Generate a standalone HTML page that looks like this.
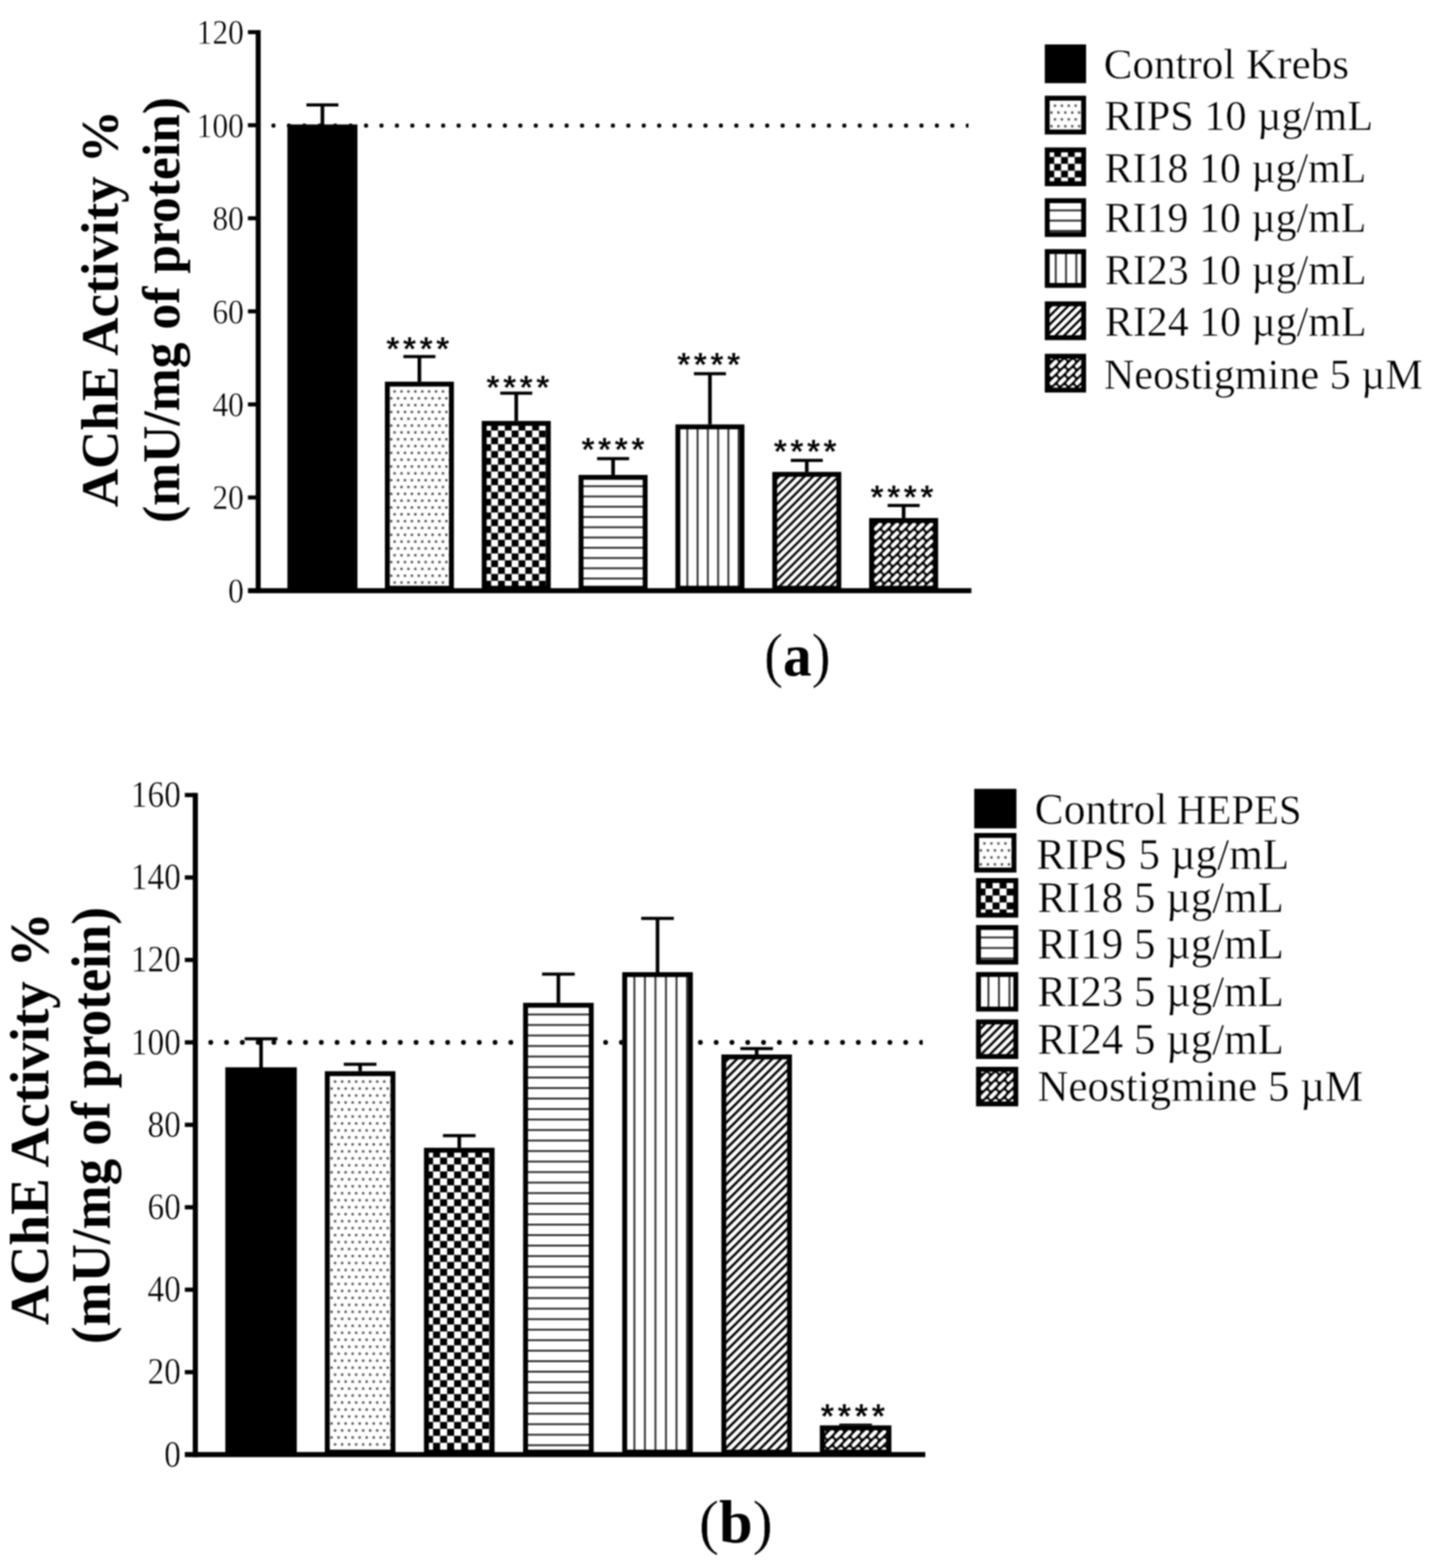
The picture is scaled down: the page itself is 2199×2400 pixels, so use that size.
<!DOCTYPE html>
<html lang="en"><head><meta charset="utf-8"><title>AChE Activity</title>
<style>
html,body{margin:0;padding:0;background:#fff;}
body{width:2199px;height:2400px;overflow:hidden;}
svg{display:block;font-family:'Liberation Serif', 'DejaVu Serif', serif;fill:#000;}
.thin{stroke:#fff;stroke-width:0.6px;}
</style></head>
<body>
<svg xmlns="http://www.w3.org/2000/svg" width="2199" height="2400" viewBox="0 0 2199 2400">
<defs><filter id="soft" x="0" y="0" width="2199" height="2400" filterUnits="userSpaceOnUse" color-interpolation-filters="sRGB"><feGaussianBlur stdDeviation="0.9"/></filter></defs>
<rect width="2199" height="2400" fill="#fff"/>
<g filter="url(#soft)">
<g id="chart-a"><defs><pattern id="dotsa" patternUnits="userSpaceOnUse" x="-5.28" y="-5.22" width="10.56" height="20.89"><rect x="3.53" y="3.47" width="3.5" height="3.5" fill="#484848"/><rect x="-1.75" y="13.92" width="3.5" height="3.5" fill="#484848"/><rect x="8.81" y="13.92" width="3.5" height="3.5" fill="#484848"/></pattern><pattern id="chka" patternUnits="userSpaceOnUse" x="0" y="0" width="20.9" height="20.9"><rect x="0" y="0" width="10.45" height="10.45" fill="#000"/><rect x="10.45" y="10.45" width="10.45" height="10.45" fill="#000"/></pattern><pattern id="hla" patternUnits="userSpaceOnUse" x="0" y="-1.4" width="40" height="15.7"><rect x="0" y="0" width="40" height="2.8" fill="#2a2a2a"/></pattern><pattern id="vla" patternUnits="userSpaceOnUse" x="-1.4" y="0" width="15.7" height="40"><rect x="0" y="0" width="2.8" height="40" fill="#2a2a2a"/></pattern><pattern id="dga" patternUnits="userSpaceOnUse" x="0" y="0" width="13" height="13"><path d="M-13,13 L13,-13 M-13,26 L26,-13 M0,26 L26,0" stroke="#000" stroke-width="3.5" fill="none"/></pattern><pattern id="dba" patternUnits="userSpaceOnUse" x="-6.5" y="-6.5" width="13" height="13"><rect width="13" height="13" fill="#000"/><path d="M3.1,9.9 L9.9,3.1" stroke="#fff" stroke-width="6" stroke-linecap="round" fill="none"/></pattern><clipPath id="clipa"><rect x="0" y="182.2" width="1482" height="20"/></clipPath></defs><line clip-path="url(#clipa)" x1="418.5" y1="192.2" x2="1502" y2="192.2" stroke="#000" stroke-width="6.4" stroke-linecap="round" stroke-dasharray="0 23.61" fill="none"/><rect x="490.6" y="160.6" width="5.6" height="31.9"/><rect x="468.9" y="158.2" width="49" height="4.8"/><rect x="439.8" y="190.5" width="107.2" height="713.6"/><rect x="639" y="545.8" width="5.6" height="40.4"/><rect x="617.3" y="543.4" width="49" height="4.8"/><g transform="translate(603.9,599.2)"><rect x="-14.9" y="-15" width="105.6" height="319.9" fill="#fff"/><rect x="-11.15" y="-11.25" width="98.1" height="312.4" fill="url(#dotsa)" stroke="#000" stroke-width="7.5"/></g><rect x="787.2" y="601.8" width="5.6" height="44.5"/><rect x="765.5" y="599.4" width="49" height="4.8"/><g transform="translate(741.2,659)"><rect x="-4" y="-14.7" width="105.6" height="259.8" fill="#fff"/><rect x="-0.25" y="-10.95" width="98.1" height="252.3" fill="url(#chka)" stroke="#000" stroke-width="7.5"/></g><rect x="935.4" y="702" width="5.6" height="26.9"/><rect x="913.7" y="699.6" width="49" height="4.8"/><g transform="translate(0,744.2)"><rect x="885.4" y="-17.3" width="105.6" height="177.2" fill="#fff"/><rect x="889.15" y="-13.55" width="98.1" height="169.7" fill="url(#hla)" stroke="#000" stroke-width="7.5"/></g><rect x="1083.6" y="572" width="5.6" height="79.6"/><rect x="1061.9" y="569.6" width="49" height="4.8"/><g transform="translate(1051.8,0)"><rect x="-18.2" y="649.6" width="105.6" height="254.5" fill="#fff"/><rect x="-14.45" y="653.35" width="98.1" height="247" fill="url(#vla)" stroke="#000" stroke-width="7.5"/></g><rect x="1231.8" y="704.7" width="5.6" height="19.6"/><rect x="1210.1" y="702.3" width="49" height="4.8"/><g transform="translate(1187.6,746.8)"><rect x="-5.8" y="-24.5" width="105.6" height="181.8" fill="#fff"/><rect x="-2.05" y="-20.75" width="98.1" height="174.3" fill="url(#dga)" stroke="#000" stroke-width="7.5"/></g><rect x="1380" y="773.7" width="5.6" height="21.2"/><rect x="1358.3" y="771.3" width="49" height="4.8"/><g transform="translate(1343.6,806)"><rect x="-13.6" y="-13.1" width="105.6" height="111.2" fill="#fff"/><rect x="-9.85" y="-9.35" width="98.1" height="103.7" fill="url(#dba)" stroke="#000" stroke-width="7.5"/></g><rect x="391.3" y="46.1" width="7.6" height="861.85"/><rect x="379.4" y="900.25" width="1107.1" height="7.7"/><rect x="379.4" y="46.1" width="15.7" height="6.2"/><text transform="translate(373.2,67.2) scale(0.92,1)" text-anchor="end" class="thin" font-size="52.5">120</text><rect x="379.4" y="188.55" width="15.7" height="6.2"/><text transform="translate(373.2,209.65) scale(0.92,1)" text-anchor="end" class="thin" font-size="52.5">100</text><rect x="379.4" y="331" width="15.7" height="6.2"/><text transform="translate(373.2,352.1) scale(0.92,1)" text-anchor="end" class="thin" font-size="52.5">80</text><rect x="379.4" y="473.45" width="15.7" height="6.2"/><text transform="translate(373.2,494.55) scale(0.92,1)" text-anchor="end" class="thin" font-size="52.5">60</text><rect x="379.4" y="615.9" width="15.7" height="6.2"/><text transform="translate(373.2,637) scale(0.92,1)" text-anchor="end" class="thin" font-size="52.5">40</text><rect x="379.4" y="758.35" width="15.7" height="6.2"/><text transform="translate(373.2,779.45) scale(0.92,1)" text-anchor="end" class="thin" font-size="52.5">20</text><text transform="translate(373.2,921.9) scale(0.92,1)" text-anchor="end" class="thin" font-size="52.5">0</text><text x="591.08" y="552.1" font-family="'Liberation Sans', 'DejaVu Sans', sans-serif" font-weight="bold" class="thin" letter-spacing="5.17" font-size="52">****</text><text x="744.28" y="610.8" font-family="'Liberation Sans', 'DejaVu Sans', sans-serif" font-weight="bold" class="thin" letter-spacing="5.17" font-size="52">****</text><text x="889.68" y="706.2" font-family="'Liberation Sans', 'DejaVu Sans', sans-serif" font-weight="bold" class="thin" letter-spacing="5.17" font-size="52">****</text><text x="1036.18" y="576" font-family="'Liberation Sans', 'DejaVu Sans', sans-serif" font-weight="bold" class="thin" letter-spacing="5.17" font-size="52">****</text><text x="1183.88" y="709" font-family="'Liberation Sans', 'DejaVu Sans', sans-serif" font-weight="bold" class="thin" letter-spacing="5.17" font-size="52">****</text><text x="1331.98" y="778.5" font-family="'Liberation Sans', 'DejaVu Sans', sans-serif" font-weight="bold" class="thin" letter-spacing="5.17" font-size="52">****</text><text transform="translate(180.2,472.5) rotate(-90) scale(1,1)" text-anchor="middle" font-weight="bold" font-size="81">AChE Activity %</text><text transform="translate(274.4,474.5) rotate(-90) scale(0.975,1)" text-anchor="middle" font-weight="bold" font-size="81">(mU/mg of protein)</text><rect x="1598.8" y="68" width="63.2" height="59.3"/><text transform="translate(1688.96,119.9) scale(0.9989,1)" class="thin" font-size="66">Control Krebs</text><g transform="translate(1614.4,161.8)"><rect x="-15.6" y="-15.3" width="63.2" height="59.3" fill="#fff"/><rect x="-11.85" y="-11.55" width="55.7" height="51.8" fill="url(#dotsa)" stroke="#000" stroke-width="7.5"/></g><text transform="translate(1689.96,198.7) scale(0.9806,1)" class="thin" font-size="66">RIPS 10 µg/mL</text><g transform="translate(1613.3,250.7)"><rect x="-14.5" y="-25" width="63.2" height="59.3" fill="#fff"/><rect x="-10.75" y="-21.25" width="55.7" height="51.8" fill="url(#chka)" stroke="#000" stroke-width="7.5"/></g><text transform="translate(1690.37,278.7) scale(0.9724,1)" class="thin" font-size="66">RI18 10 µg/mL</text><g transform="translate(0,322)"><rect x="1598.8" y="-18.6" width="63.2" height="59.3" fill="#fff"/><rect x="1602.55" y="-14.85" width="55.7" height="51.8" fill="url(#hla)" stroke="#000" stroke-width="7.5"/></g><text transform="translate(1690.37,355) scale(0.9724,1)" class="thin" font-size="66">RI19 10 µg/mL</text><g transform="translate(1615.6,0)"><rect x="-16.8" y="381.3" width="63.2" height="59.3" fill="#fff"/><rect x="-13.05" y="385.05" width="55.7" height="51.8" fill="url(#vla)" stroke="#000" stroke-width="7.5"/></g><text transform="translate(1690.67,434.7) scale(0.9724,1)" class="thin" font-size="66">RI23 10 µg/mL</text><g transform="translate(1610,480)"><rect x="-11.2" y="-18.7" width="63.2" height="59.3" fill="#fff"/><rect x="-7.45" y="-14.95" width="55.7" height="51.8" fill="url(#dga)" stroke="#000" stroke-width="7.5"/></g><text transform="translate(1690.67,514.2) scale(0.9724,1)" class="thin" font-size="66">RI24 10 µg/mL</text><g transform="translate(1612.5,557.2)"><rect x="-13.7" y="-15.7" width="63.2" height="59.3" fill="#fff"/><rect x="-9.95" y="-11.95" width="55.7" height="51.8" fill="url(#dba)" stroke="#000" stroke-width="7.5"/></g><text transform="translate(1689.27,595) scale(0.9764,1)" class="thin" font-size="66">Neostigmine 5 µM</text><text transform="translate(1220.2,1034.2) scale(0.93,1)" text-anchor="middle" class="thin" font-size="94">(<tspan font-weight="bold" stroke="none">a</tspan>)</text></g>
<g id="chart-b"><defs><pattern id="dotsb" patternUnits="userSpaceOnUse" x="-5.37" y="-5.34" width="10.74" height="21.36"><rect x="3.62" y="3.59" width="3.5" height="3.5" fill="#484848"/><rect x="-1.75" y="14.27" width="3.5" height="3.5" fill="#484848"/><rect x="8.99" y="14.27" width="3.5" height="3.5" fill="#484848"/></pattern><pattern id="chkb" patternUnits="userSpaceOnUse" x="0" y="0" width="21.48" height="21.3"><rect x="0" y="0" width="10.74" height="10.65" fill="#000"/><rect x="10.74" y="10.65" width="10.74" height="10.65" fill="#000"/></pattern><pattern id="hlb" patternUnits="userSpaceOnUse" x="0" y="-1.4" width="40" height="16.08"><rect x="0" y="0" width="40" height="2.8" fill="#2a2a2a"/></pattern><pattern id="vlb" patternUnits="userSpaceOnUse" x="-1.4" y="0" width="16.1" height="40"><rect x="0" y="0" width="2.8" height="40" fill="#2a2a2a"/></pattern><pattern id="dgb" patternUnits="userSpaceOnUse" x="0" y="0" width="13.45" height="13.45"><path d="M-13.45,13.45 L13.45,-13.45 M-13.45,26.9 L26.9,-13.45 M0,26.9 L26.9,0" stroke="#000" stroke-width="3.6" fill="none"/></pattern><pattern id="dbb" patternUnits="userSpaceOnUse" x="-6.65" y="-6.65" width="13.3" height="13.3"><rect width="13.3" height="13.3" fill="#000"/><path d="M3.15,10.15 L10.15,3.15" stroke="#fff" stroke-width="6.1" stroke-linecap="round" fill="none"/></pattern><clipPath id="clipb"><rect x="0" y="1585.5" width="1412" height="20"/></clipPath></defs><line clip-path="url(#clipb)" x1="322.5" y1="1595.5" x2="1432" y2="1595.5" stroke="#000" stroke-width="7.4" stroke-linecap="round" stroke-dasharray="0 24.17" fill="none"/><rect x="396.75" y="1590" width="5.5" height="45.6"/><rect x="374.5" y="1587.6" width="50" height="4.8"/><rect x="344.8" y="1633.6" width="109.4" height="592.8"/><rect x="548.35" y="1629" width="5.5" height="12.6"/><rect x="526.1" y="1626.6" width="50" height="4.8"/><g transform="translate(512.8,1655.5)"><rect x="-15.7" y="-15.9" width="108" height="586.8" fill="#fff"/><rect x="-11.95" y="-12.15" width="100.5" height="579.3" fill="url(#dotsb)" stroke="#000" stroke-width="7.5"/></g><rect x="700.05" y="1738.2" width="5.5" height="20.6"/><rect x="677.8" y="1735.8" width="50" height="4.8"/><g transform="translate(652,1771.7)"><rect x="-3.2" y="-14.9" width="108" height="469.6" fill="#fff"/><rect x="0.55" y="-11.15" width="100.5" height="462.1" fill="url(#chkb)" stroke="#000" stroke-width="7.5"/></g><rect x="851.75" y="1491" width="5.5" height="45.9"/><rect x="829.5" y="1488.6" width="50" height="4.8"/><g transform="translate(0,1552.8)"><rect x="800.5" y="-17.9" width="108" height="691.5" fill="#fff"/><rect x="804.25" y="-14.15" width="100.5" height="684" fill="url(#hlb)" stroke="#000" stroke-width="7.5"/></g><rect x="1003.45" y="1405.7" width="5.5" height="84.3"/><rect x="981.2" y="1403.3" width="50" height="4.8"/><g transform="translate(970.8,0)"><rect x="-18.6" y="1488" width="108" height="738.4" fill="#fff"/><rect x="-14.85" y="1491.75" width="100.5" height="730.9" fill="url(#vlb)" stroke="#000" stroke-width="7.5"/></g><rect x="1155.15" y="1605" width="5.5" height="11"/><rect x="1132.9" y="1602.6" width="50" height="4.8"/><g transform="translate(1115.3,1620)"><rect x="-11.4" y="-6" width="108" height="612.4" fill="#fff"/><rect x="-7.65" y="-2.25" width="100.5" height="604.9" fill="url(#dgb)" stroke="#000" stroke-width="7.5"/></g><rect x="1306.6" y="2181.4" width="5.5" height="2.3"/><rect x="1284.35" y="2179" width="50" height="4.8"/><g transform="translate(1270,2195)"><rect x="-15.4" y="-13.3" width="109.5" height="44.7" fill="#fff"/><rect x="-11.65" y="-9.55" width="102" height="37.2" fill="url(#dbb)" stroke="#000" stroke-width="7.5"/></g><rect x="294.95" y="1213.65" width="7.9" height="1016.65"/><rect x="282.8" y="2222.5" width="1133.2" height="7.8"/><rect x="282.8" y="1213.65" width="16.1" height="6.5"/><text transform="translate(276.7,1235) scale(0.91,1)" text-anchor="end" class="thin" font-size="56">160</text><rect x="282.8" y="1339.84" width="16.1" height="6.5"/><text transform="translate(276.7,1361.19) scale(0.91,1)" text-anchor="end" class="thin" font-size="56">140</text><rect x="282.8" y="1466.03" width="16.1" height="6.5"/><text transform="translate(276.7,1487.38) scale(0.91,1)" text-anchor="end" class="thin" font-size="56">120</text><rect x="282.8" y="1592.22" width="16.1" height="6.5"/><text transform="translate(276.7,1613.57) scale(0.91,1)" text-anchor="end" class="thin" font-size="56">100</text><rect x="282.8" y="1718.41" width="16.1" height="6.5"/><text transform="translate(276.7,1739.76) scale(0.91,1)" text-anchor="end" class="thin" font-size="56">80</text><rect x="282.8" y="1844.6" width="16.1" height="6.5"/><text transform="translate(276.7,1865.95) scale(0.91,1)" text-anchor="end" class="thin" font-size="56">60</text><rect x="282.8" y="1970.79" width="16.1" height="6.5"/><text transform="translate(276.7,1992.14) scale(0.91,1)" text-anchor="end" class="thin" font-size="56">40</text><rect x="282.8" y="2096.98" width="16.1" height="6.5"/><text transform="translate(276.7,2118.33) scale(0.91,1)" text-anchor="end" class="thin" font-size="56">20</text><text transform="translate(276.7,2244.52) scale(0.91,1)" text-anchor="end" class="thin" font-size="56">0</text><text x="1255.79" y="2186" font-family="'Liberation Sans', 'DejaVu Sans', sans-serif" font-weight="bold" class="thin" letter-spacing="5.38" font-size="53">****</text><text transform="translate(74.4,1712.3) rotate(-90) scale(1,1)" text-anchor="middle" font-weight="bold" font-size="84.2">AChE Activity %</text><text transform="translate(167.6,1722.8) rotate(-90) scale(0.962,1)" text-anchor="middle" font-weight="bold" font-size="84.2">(mU/mg of protein)</text><rect x="1490.8" y="1207.4" width="64.6" height="60.5"/><text transform="translate(1583.34,1261) scale(0.9821,1)" class="thin" font-size="67.7">Control <tspan font-size="63.5" dx="-2">HEPES</tspan></text><g transform="translate(1506.4,1291)"><rect x="-15.6" y="-16" width="64.6" height="60.5" fill="#fff"/><rect x="-11.85" y="-12.25" width="57.1" height="53" fill="url(#dotsb)" stroke="#000" stroke-width="7.5"/></g><text transform="translate(1585.82,1330.3) scale(0.9764,1)" class="thin" font-size="67.7">RIPS 5 µg/mL</text><g transform="translate(1497.4,1360)"><rect x="-3.8" y="-16" width="64.6" height="60.5" fill="#fff"/><rect x="-0.05" y="-12.25" width="57.1" height="53" fill="url(#chkb)" stroke="#000" stroke-width="7.5"/></g><text transform="translate(1587.53,1396.2) scale(0.9699,1)" class="thin" font-size="67.7">RI18 5 µg/mL</text><g transform="translate(0,1434.9)"><rect x="1493.6" y="-19" width="64.6" height="60.5" fill="#fff"/><rect x="1497.35" y="-15.25" width="57.1" height="53" fill="url(#hlb)" stroke="#000" stroke-width="7.5"/></g><text transform="translate(1587.53,1467) scale(0.9699,1)" class="thin" font-size="67.7">RI19 5 µg/mL</text><g transform="translate(1512.6,0)"><rect x="-19" y="1487.8" width="64.6" height="60.5" fill="#fff"/><rect x="-15.25" y="1491.55" width="57.1" height="53" fill="url(#vlb)" stroke="#000" stroke-width="7.5"/></g><text transform="translate(1587.53,1539.5) scale(0.9699,1)" class="thin" font-size="67.7">RI23 5 µg/mL</text><g transform="translate(1505,1570)"><rect x="-11.4" y="-9.6" width="64.6" height="60.5" fill="#fff"/><rect x="-7.65" y="-5.85" width="57.1" height="53" fill="url(#dgb)" stroke="#000" stroke-width="7.5"/></g><text transform="translate(1587.53,1613) scale(0.9699,1)" class="thin" font-size="67.7">RI24 5 µg/mL</text><g transform="translate(1506.7,1635.8)"><rect x="-13.1" y="-2.9" width="64.6" height="60.5" fill="#fff"/><rect x="-9.35" y="0.85" width="57.1" height="53" fill="url(#dbb)" stroke="#000" stroke-width="7.5"/></g><text transform="translate(1587.53,1685) scale(0.9723,1)" class="thin" font-size="67.7">Neostigmine 5 µM</text><text transform="translate(1126,2361.4) scale(0.985,1)" text-anchor="middle" class="thin" font-size="94">(<tspan font-weight="bold" stroke="none">b</tspan>)</text></g>
</g>
</svg>
</body></html>
